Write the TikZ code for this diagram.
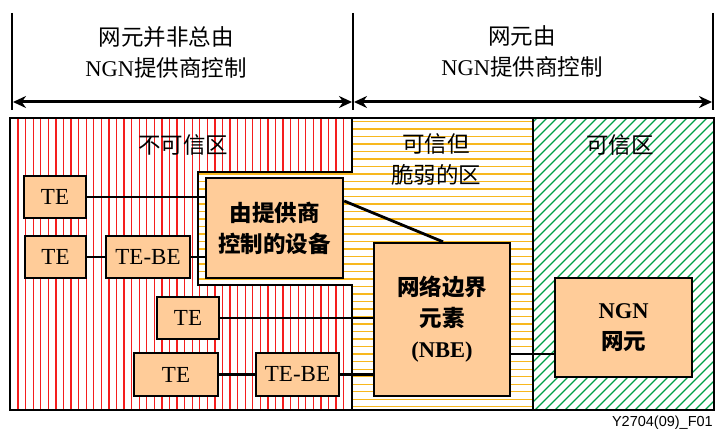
\documentclass[tikz,border=0pt]{standalone}
\usepackage{fontspec}
\setmainfont{Liberation Serif}
\setsansfont{Liberation Sans}
\newfontfamily\cjk{Noto Sans CJK SC}
\usetikzlibrary{arrows.meta,calc}
\definecolor{boxfill}{RGB}{255,204,153}
\definecolor{hatchred}{RGB}{245,30,30}
\definecolor{hatchyel}{RGB}{248,184,30}
\definecolor{hatchgrn}{RGB}{0,160,72}
\begin{document}
\begin{tikzpicture}[x=1pt,y=-1pt,
  box/.style={draw=black,line width=2.4pt,fill=boxfill,inner sep=0pt,
    font=\rmfamily\fontsize{23}{23}\selectfont},
  bbox/.style={box,align=center,font=\cjk\bfseries\fontsize{22.5}{31}\selectfont},
  conn/.style={line width=2.8pt},
  zone/.style={line width=2.2pt},
  head/.style={align=center,font=\cjk\fontsize{22.5}{31}\selectfont},
  bar/.style={line width=2.2pt},
  span/.style={line width=3pt,{Stealth[length=13pt,width=12pt]}-{Stealth[length=13pt,width=12pt]}}]
\useasboundingbox (0,0) rectangle (715,430);
\fill[white] (0,0) rectangle (715,430);
% hatching
\begin{scope}
\clip (10,118) -- (352,118) -- (352,172) -- (198,172) -- (198,285) -- (352,285) -- (352,410) -- (10,410) -- cycle;
\foreach \i in {0,...,46} \draw[hatchred,line width=1.3pt] ({18.1+7.57*\i},110) -- ++(0,310);
\end{scope}
\begin{scope}
\clip (352,118) -- (533,118) -- (533,410) -- (352,410) -- (352,285) -- (198,285) -- (198,172) -- (352,172) -- cycle;
\foreach \i in {-9,...,31} \draw[hatchyel,line width=1.4pt] (190,{181.7+7.5*\i}) -- (540,{181.7+7.5*\i});
\end{scope}
\begin{scope}
\clip (533,118) rectangle (714,410);
\foreach \i in {0,...,50} \draw[hatchgrn,line width=1.2pt] ({233+10*\i},412) -- ++(302,-302);
\end{scope}
% zone borders
\draw[zone] (10,118) rectangle (714,410);
\draw[zone] (352,118) -- (352,172) -- (198,172) -- (198,285) -- (352,285) -- (352,410);
\draw[zone] (533,118) -- (533,410);
% top bars and spans
\coordinate (b1t) at (12,13); \coordinate (b1b) at (12,110);
\coordinate (b2t) at (353,13); \coordinate (b2b) at (353,110);
\coordinate (b3t) at (713,13); \coordinate (b3b) at (713,110);
\draw[bar] (b1t) -- (b1b);
\draw[bar] (b2t) -- (b2b);
\draw[bar] (b3t) -- (b3b);
\coordinate (s1) at (13,102); \coordinate (s2) at (352,102);
\coordinate (s3) at (354,102); \coordinate (s4) at (712,102);
\draw[span] (s1) -- (s2);
\draw[span] (s3) -- (s4);
\node[head] (h1) at (166,52) {网元并非总由\\{\rmfamily NGN}提供商控制};
\node[head] (h2) at (522,51) {网元由\\{\rmfamily NGN}提供商控制};
% zone labels
\node[head] (z1) at (183,145) {不可信区};
\node[head] (z2) at (436,159) {可信但\\脆弱的区};
\node[head] (z3) at (620,145) {可信区};
% boxes
\node[box,minimum width=62,minimum height=42] (te1) at (55,197) {TE};
\node[box,minimum width=61,minimum height=42] (te2) at (55.5,257) {TE};
\node[box,minimum width=84,minimum height=42] (tebe1) at (148,257) {TE-BE};
\node[bbox,minimum width=137,minimum height=100] (dev) at (274.5,228) {由提供商\\控制的设备};
\node[box,minimum width=62,minimum height=42] (te3) at (188,318) {TE};
\node[box,minimum width=84,minimum height=43] (te4) at (176,374.5) {TE};
\node[box,minimum width=83,minimum height=43] (tebe2) at (297.5,374.5) {TE-BE};
\node[bbox,minimum width=136,minimum height=153] (nbe) at (442,319.5) {网络边界\\元素\\{\rmfamily\bfseries (NBE)}};
\node[bbox,minimum width=137,minimum height=99] (ngn) at (623.5,327.5) {{\rmfamily\bfseries NGN}\\网元};
% connectors
\draw[conn] (te1.east) -- (te1.east -| dev.west);
\draw[conn] (te2.east) -- (tebe1.west);
\draw[conn] (tebe1.east) -- (tebe1.east -| dev.west);
\draw[conn] ($(dev.east)+(0,-27)$) -- ($(nbe.north)+(1,0)$);
\draw[conn] (te3.east) -- (te3.east -| nbe.west);
\draw[conn] (te4.east) -- (tebe2.west);
\draw[conn] (tebe2.east) -- (tebe2.east -| nbe.west);
\draw[conn] ($(ngn.west)+(0,26.5)$) -- ($(nbe.east)+(0,34.5)$);
% figure id
\node[anchor=base east,inner sep=0pt,font=\sffamily\fontsize{14.5}{14.5}\selectfont] (fid) at (713,426) {Y2704(09)\_F01};
\end{tikzpicture}
\end{document}
